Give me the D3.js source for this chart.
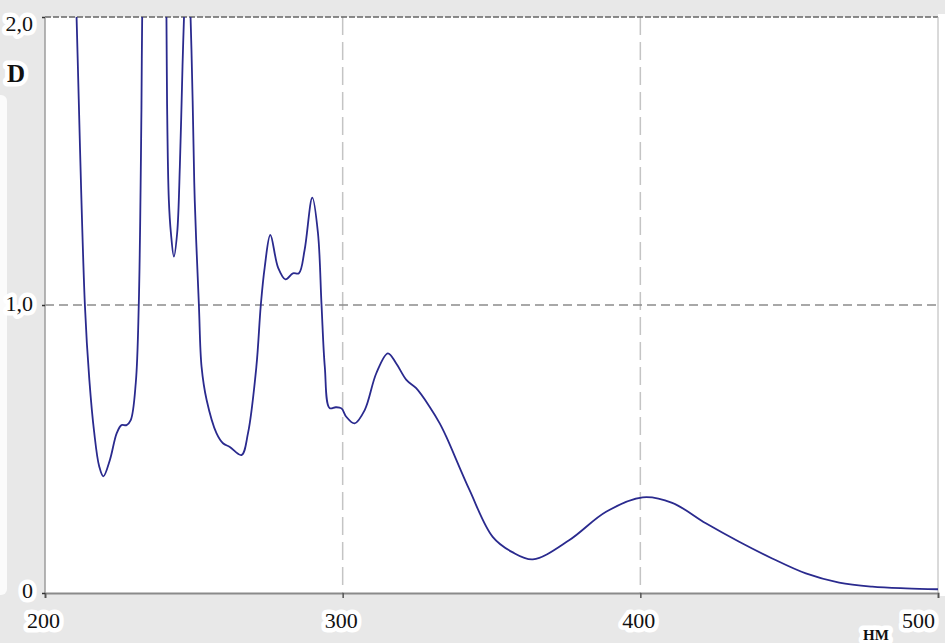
<!DOCTYPE html>
<html lang="ru">
<head>
<meta charset="UTF-8">
<title>Spectrum</title>
<script src="https://d3js.org/d3.v7.min.js"></script>
<style>
  body { margin: 0; background: #e8e8e8; }
  svg { display: block; }
  .lbl { font-family: "Liberation Serif", "Times New Roman", serif; fill: #111;
         paint-order: stroke; stroke: #fff; stroke-width: 9px; stroke-linejoin: round; }
</style>
</head>
<body>
<svg id="chart"></svg>
<script>
    // wavelength, nm
    const wavelength = [209.5, 210.6, 213.4, 214.9, 216.5, 218.2, 219.6, 221.8, 224.1,
        225.7, 227.4, 228.8, 230.5, 231.5, 232.4, 232.65, 233.6, 240.0, 240.8,
        241.0, 241.6, 242.3, 243.3, 244.4, 245.3, 246.2, 246.7, 247.8, 248.9,
        249.6, 250.3, 251.7, 252.6, 254.3, 257.6, 259.8, 262.1, 266.0, 268.2,
        271.0, 272.5, 273.8, 275.7, 278.3, 280.8, 283.3, 285.3, 287.2, 289.8,
        291.7, 292.9, 294.0, 295.6, 297.7, 299.6, 301.2, 304.0, 307.4, 311.3,
        315.2, 318.0, 321.4, 324.7, 329.2, 332.6, 334.8, 342.6, 350.4, 357.0,
        363.9, 376.2, 388.5, 400.8, 410.7, 422.0, 433.2, 444.3, 455.6, 466.8,
        477.9, 489.2, 500];
    // optical density D
    const density = [2.4, 2.0, 1.0, 0.74, 0.56, 0.44, 0.405, 0.462, 0.555,
        0.583, 0.583, 0.60, 0.73, 1.0, 1.68, 2.0, 2.5, 2.5, 2.0,
        1.71, 1.365, 1.25, 1.168, 1.25, 1.48, 1.83, 2.0, 2.3, 2.0,
        1.71, 1.365, 1.0, 0.785, 0.67, 0.555, 0.52, 0.507, 0.479, 0.555,
        0.785, 1.0, 1.13, 1.243, 1.13, 1.089, 1.11, 1.11, 1.19, 1.373,
        1.25, 1.0, 0.785, 0.642, 0.645, 0.641, 0.612, 0.589, 0.635, 0.763,
        0.832, 0.797, 0.74, 0.711, 0.647, 0.589, 0.543, 0.358, 0.195, 0.142,
        0.117, 0.184, 0.282, 0.332, 0.313, 0.242, 0.178, 0.12, 0.068, 0.036,
        0.022, 0.016, 0.013];
    const xTicks = [200, 300, 400, 500];
    const yTicks = [0, 1, 2];

    const width = 945, height = 643;
    const pLeft = 45, pRight = 938, pTop = 17, pBottom = 593;

    const svg = d3.select('#chart').attr('width', width).attr('height', height);

    let x = d3.scaleLinear().domain([200, 500]).range([pLeft, pRight]);
    let y = d3.scaleLinear().domain([0, 2]).range([pBottom, pTop]);

    // white strips at the edges
    svg.append('rect').attr('x', pRight).attr('y', pTop - 3).attr('width', width - pRight).attr('height', pBottom - pTop + 6).attr('fill', '#fff');
    svg.append('rect').attr('x', -6).attr('y', 95).attr('width', 13).attr('height', 500).attr('rx', 6).attr('fill', '#fbfbfb');

    // plot area
    svg.append('rect')
        .attr('x', pLeft).attr('y', pTop)
        .attr('width', pRight - pLeft).attr('height', pBottom - pTop)
        .attr('fill', '#fff');

    // grid
    svg.append('g').selectAll('line')
        .data([300, 400]).join('line')
        .attr('x1', d => x(d)).attr('x2', d => x(d))
        .attr('y1', pTop).attr('y2', pBottom)
        .attr('stroke', '#c4c4c4').attr('stroke-width', 1.5)
        .attr('stroke-dasharray', '18,7');

    svg.append('line')
        .attr('x1', pLeft).attr('x2', pRight)
        .attr('y1', y(1)).attr('y2', y(1))
        .attr('stroke', '#8c8c8c').attr('stroke-width', 1.5)
        .attr('stroke-dasharray', '9,5');

    svg.append('line')
        .attr('x1', pLeft).attr('x2', pRight)
        .attr('y1', y(2)).attr('y2', y(2))
        .attr('stroke', '#666').attr('stroke-width', 1.6)
        .attr('stroke-dasharray', '6,2');

    // frame
    svg.append('line').attr('x1', pRight).attr('x2', pRight).attr('y1', pTop).attr('y2', pBottom)
        .attr('stroke', '#b4b4b4').attr('stroke-width', 1);
    svg.append('line').attr('x1', pLeft).attr('x2', pLeft).attr('y1', pTop).attr('y2', pBottom)
        .attr('stroke', '#9c9c9c').attr('stroke-width', 1.5);

    // curve
    svg.append('clipPath').attr('id', 'clip')
        .append('rect').attr('x', pLeft).attr('y', pTop)
        .attr('width', pRight - pLeft).attr('height', pBottom - pTop);

    const points = wavelength.map((w, i) => [w, density[i]]);
    const line = d3.line()
        .x(d => x(d[0]))
        .y(d => y(d[1]))
        .curve(d3.curveCatmullRom.alpha(0.5));

    svg.append('path')
        .datum(points)
        .attr('clip-path', 'url(#clip)')
        .attr('d', line)
        .attr('fill', 'none')
        .attr('stroke', '#2a2a8e')
        .attr('stroke-width', 1.8)
        .attr('stroke-linejoin', 'round');

    // axes
    const xAxis = svg.append('g')
        .attr('transform', `translate(0,${pBottom})`)
        .call(d3.axisBottom(x).tickValues(xTicks).tickSize(5).tickPadding(14));
    xAxis.select('.domain').attr('stroke', '#8a8a8a').attr('stroke-width', 2);
    xAxis.selectAll('.tick line').attr('stroke', '#555').attr('stroke-width', 1.5);
    xAxis.selectAll('.tick text')
        .attr('class', 'lbl')
        .attr('font-size', 22)
        .attr('dx', d => d === 500 ? -20 : -2);

    const yAxis = svg.append('g')
        .attr('transform', `translate(${pLeft},0)`)
        .call(d3.axisLeft(y).tickValues(yTicks).tickSize(3).tickPadding(9)
            .tickFormat(d => d === 0 ? '0' : d3.format('.1f')(d).replace('.', ',')));
    yAxis.select('.domain').remove();
    yAxis.selectAll('.tick line').attr('stroke', '#333').attr('stroke-width', 1.5);
    yAxis.selectAll('.tick text')
        .attr('class', 'lbl')
        .attr('font-size', 22)
        .attr('dy', d => d === 2 ? '0.62em' : d === 0 ? '0.2em' : '0.25em');

    // axis titles
    svg.append('text').attr('class', 'lbl')
        .attr('x', 16).attr('y', 82)
        .attr('text-anchor', 'middle')
        .attr('font-size', 25).attr('font-weight', 'bold')
        .text('D');

    svg.append('text').attr('class', 'lbl')
        .attr('x', 876).attr('y', 640)
        .attr('text-anchor', 'middle')
        .attr('font-size', 15).attr('font-weight', 'bold')
        .text('НМ');
</script>
</body>
</html>
